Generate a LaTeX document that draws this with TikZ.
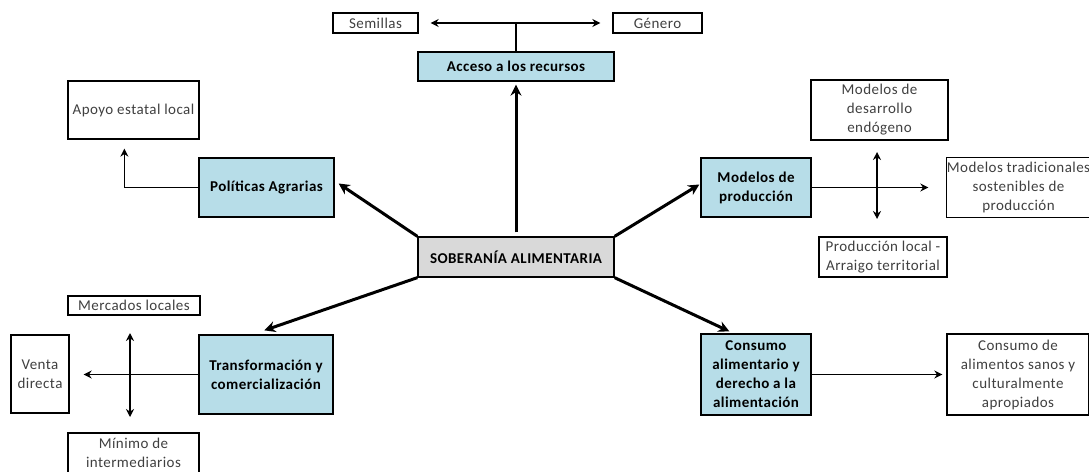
\documentclass[tikz,border=0pt]{standalone}
\usepackage{fontspec}
\setmainfont[LetterSpace=3]{Carlito}
\usetikzlibrary{arrows.meta,calc}
\definecolor{boxblue}{HTML}{B7DDE8}
\definecolor{boxgray}{HTML}{D9D9D9}
\definecolor{txtgray}{HTML}{404040}
\tikzset{
  base/.style={draw=black, line width=1.3pt, inner sep=1pt, align=center,
    font=\fontsize{15}{19}\selectfont},
  wbox/.style={base, fill=white, text=txtgray},
  bbox/.style={base, fill=boxblue, text=black, font=\fontsize{15}{19}\selectfont\bfseries},
  gbox/.style={base, fill=boxgray, text=black, font=\fontsize{15}{19}\selectfont\bfseries},
  thickarr/.style={line width=3pt, -{Stealth[length=11pt,width=11pt]}},
  arr/.style={line width=1.6pt, -{Stealth[length=8pt,width=8pt]}},
  dbl/.style={line width=1.6pt, {Stealth[length=8pt,width=8pt]}-{Stealth[length=8pt,width=8pt]}},
  ln/.style={line width=1.6pt}
}
\begin{document}
\begin{tikzpicture}[x=1pt,y=-1pt]
\useasboundingbox (0,0) rectangle (1089,471);
% boxes
\node[gbox, minimum width=196pt, minimum height=40pt] (sob) at (516,257) {SOBERANÍA ALIMENTARIA};
\node[bbox, minimum width=196pt, minimum height=29pt] (acc) at (516,66.5) {Acceso a los recursos};
\node[wbox, minimum width=85pt, minimum height=20pt] (sem) at (375.5,23) {Semillas};
\node[wbox, minimum width=89pt, minimum height=20pt] (gen) at (657.5,23) {Género};
\node[wbox, minimum width=131pt, minimum height=58pt] (apo) at (133.5,110) {Apoyo estatal local};
\node[bbox, minimum width=135pt, minimum height=59pt] (pol) at (266.5,187.5) {Políticas Agrarias};
\node[bbox, minimum width=110pt, minimum height=59pt] (mod) at (756,187.5) {Modelos de\\producción};
\node[wbox, minimum width=137pt, minimum height=60pt] (des) at (879.5,110) {Modelos de\\desarrollo\\endógeno};
\node[wbox, draw=none, fill=none, minimum width=143pt, minimum height=59pt] (tra) at (1018.5,187.5) {};
\draw[line width=1.3pt, draw=black, fill=white] (tra.north west) rectangle (tra.south east);
\node[text=txtgray, align=center, font=\fontsize{15}{19}\selectfont, inner sep=0pt] (tratxt) at (tra.center) {Modelos tradicionales\\sostenibles de\\producción};
\node[wbox, minimum width=128pt, minimum height=40pt] (loc) at (883,257) {Producción local -\\Arraigo territorial};
\node[wbox, minimum width=132pt, minimum height=19pt] (mer) at (134,305.5) {Mercados locales};
\node[wbox, minimum width=58pt, minimum height=78pt] (ven) at (40,374) {Venta\\directa};
\node[bbox, minimum width=134pt, minimum height=79pt] (trans) at (266,374.5) {Transformación y\\comercialización};
\node[wbox, minimum width=131pt, minimum height=40pt] (min) at (133.5,453) {Mínimo de\\intermediarios};
\node[bbox, minimum width=110pt, minimum height=81pt] (con) at (756,374.5) {Consumo\\alimentario y\\derecho a la\\alimentación};
\node[wbox, minimum width=142pt, minimum height=81pt] (cds) at (1018,374.5) {Consumo de\\alimentos sanos y\\culturalmente\\apropiados};
% thick arrows from centre
\draw[thickarr, shorten <=4pt, shorten >=3pt] (sob.north) -- (acc.south);
\draw[thickarr] (sob.north west) -- ([shift={(4,-4)}]pol.east);
\draw[thickarr] (sob.north east) -- ([shift={(-1,-3)}]mod.west);
\draw[thickarr] (sob.south west) -- ([shift={(66,-4)}]trans.north west);
\draw[thickarr] (sob.south east) -- ([shift={(29,-2)}]con.north west);
% Acceso
\coordinate (accj) at (acc.north |- sem.east);
\draw[dbl, shorten <=12pt, shorten >=12pt] (sem.east) -- (gen.west);
\draw[ln] (acc.north) -- (accj);
% Politicas
\draw[arr] (pol.west) -| ([shift={(57,9)}]apo.south west);
% Modelos de produccion
\coordinate (mv1) at (877,152);
\coordinate (mv2) at (877,219);
\draw[arr, shorten >=18pt] (mod.east) -- (tra.west);
\draw[dbl] (mv1) -- (mv2);
% Transformacion
\coordinate (tv1) at (130,333);
\coordinate (tv2) at (130,417);
\draw[arr, shorten >=14pt] (trans.west) -- (trans.west -| ven.east);
\draw[dbl] (tv1) -- (tv2);
% Consumo
\draw[arr, shorten >=4pt] (con.east) -- (cds.west);
\end{tikzpicture}
\end{document}
